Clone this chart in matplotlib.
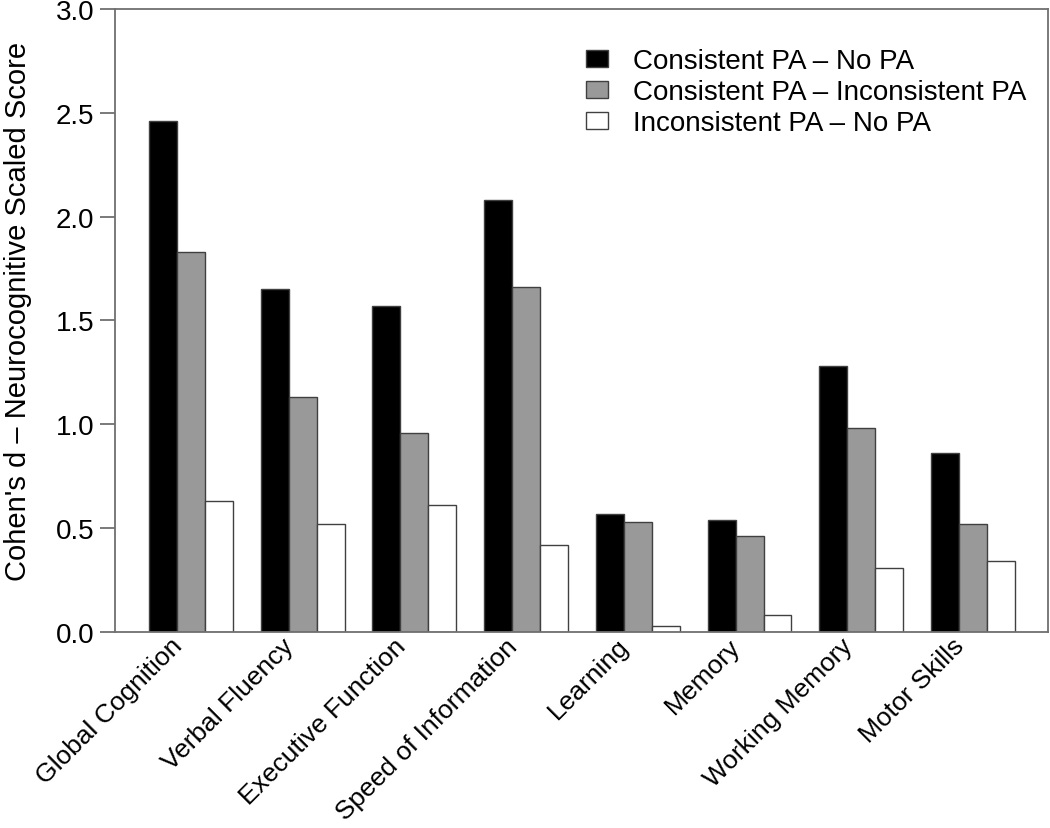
import matplotlib
matplotlib.use("Agg")
from matplotlib import pyplot as plt
import numpy as np

domains = ['Global Cognition', 'Verbal Fluency', 'Executive Function', 'Speed of Information',
           'Learning', 'Memory', 'Working Memory', 'Motor Skills']
series_names = ['Consistent PA \u2013 No PA', 'Consistent PA \u2013 Inconsistent PA',
                'Inconsistent PA \u2013 No PA']
cons_vs_none = [2.46, 1.65, 1.57, 2.08, 0.57, 0.54, 1.28, 0.86]
cons_vs_incons = [1.83, 1.13, 0.96, 1.66, 0.53, 0.46, 0.98, 0.52]
incons_vs_none = [0.63, 0.52, 0.61, 0.42, 0.03, 0.08, 0.31, 0.34]
colors = ['black', '#999999', 'white']

plt.rcParams['font.family'] = ['Liberation Sans', 'DejaVu Sans']
axis_grey = '#707070'
fs = 20

fig = plt.figure(figsize=(10.5, 8.29), dpi=100)
ax = fig.add_axes([0.1095, 0.2364, 0.8885, 0.7516])

# R-style barplot layout: one bar-width gap before each group of 3
starts = np.arange(len(domains)) * 4 + 1
for i, vals in enumerate([cons_vs_none, cons_vs_incons, incons_vs_none]):
    ax.bar(starts + i, vals, width=1, align='edge', color=colors[i],
           edgecolor='#404040', linewidth=1.0, label=series_names[i])

ax.set_xlim(-0.217, 33.18)
ax.set_ylim(0, 3.0)
ax.set_yticks(np.arange(0, 3.01, 0.5))
ax.set_yticklabels(['%.1f' % v for v in np.arange(0, 3.01, 0.5)])
# rotated labels end a little left of the group centre (ticks are hidden)
ax.set_xticks(starts + 1.5 - 0.75)
ax.set_xticklabels(domains, rotation=45, ha='right', rotation_mode='anchor')

for s in ax.spines.values():
    s.set_color(axis_grey)
    s.set_linewidth(1.3)
ax.tick_params(axis='y', length=11, width=1.3, color=axis_grey, labelsize=fs, pad=4)
ax.tick_params(axis='x', length=0, labelsize=19, pad=1)

ax.set_ylabel("Cohen's d \u2013 Neurocognitive Scaled Score", fontsize=21)
ax.yaxis.set_label_coords(-0.089, 0.516)

ax.legend(loc='upper right', bbox_to_anchor=(1.004, 0.977), frameon=False, fontsize=fs,
          handlelength=0.8, handleheight=0.55, handletextpad=0.9, labelspacing=0.18)

fig.savefig('out.png', dpi=100)
